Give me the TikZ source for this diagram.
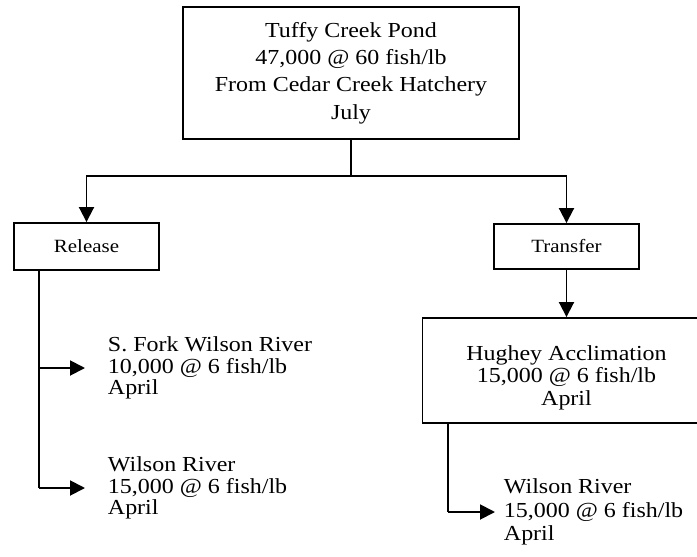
\documentclass[tikz,border=0pt]{standalone}
\usepackage{fontspec}
\setmainfont{Liberation Serif}[FakeStretch=1.12]
\usetikzlibrary{arrows.meta}
\begin{document}
\begin{tikzpicture}[x=1pt,y=-1pt,
  line width=1.9pt,
  box/.style={draw,line width=1.9pt,inner sep=0pt,align=center},
  lbl/.style={inner sep=0pt,align=left,anchor=west},
  arr/.style={-{Triangle[length=15pt,width=15pt]}},
  mainfont/.style={font=\fontsize{21.4}{#1}\selectfont},
]
\useasboundingbox (0,0) rectangle (697,557);
% top box
\node[box,mainfont=27.3,minimum width=336pt,minimum height=132pt] (top) at (351,73)
  {Tuffy Creek Pond\\47,000 @ 60 fish/lb\\From Cedar Creek Hatchery\\July};
% second level boxes
\node[box,font=\fontsize{18.7}{22}\selectfont,minimum width=145pt,minimum height=47pt] (rel) at (86.5,246.5) {Release};
\node[box,font=\fontsize{18.7}{22}\selectfont,minimum width=145pt,minimum height=45pt] (tra) at (566.5,246.5) {Transfer};
% Hughey box (extends past the right edge)
\node[box,mainfont=22.5,minimum width=288pt,minimum height=105pt] (hug) at (566.5,370.5)
  {\rule{0pt}{28.6pt}Hughey Acclimation\\15,000 @ 6 fish/lb\\April};
% split
\coordinate (split) at (351,176);
\draw (top.south) -- (split);
\draw[arr] (split) -| (rel.north);
\draw[arr] (split) -| (tra.north);
\draw[arr] (tra.south) -- (hug.north);
% release targets
\node[lbl,mainfont=21.7] (sf) at (107,368) {S. Fork Wilson River\\10,000 @ 6 fish/lb\\April};
\node[lbl,mainfont=21.7] (wr1) at (107,488) {Wilson River\\15,000 @ 6 fish/lb\\April};
\coordinate (rl) at (39,270);
\coordinate (r1) at (39,368);
\coordinate (r2) at (39,488);
\draw (rl) -- (r2);
\draw[arr,shorten >=22pt] (r1) -- (sf.west);
\draw[arr,shorten >=22pt] (r2) -- (wr1.west);
% transfer target
\node[lbl,mainfont=23.5] (wr2) at (503,512) {Wilson River\\15,000 @ 6 fish/lb\\April};
\coordinate (h0) at (448,423);
\coordinate (h1) at (448,512);
\draw (h0) -- (h1);
\draw[arr,shorten >=8pt] (h1) -- (wr2.west);
\end{tikzpicture}
\end{document}
